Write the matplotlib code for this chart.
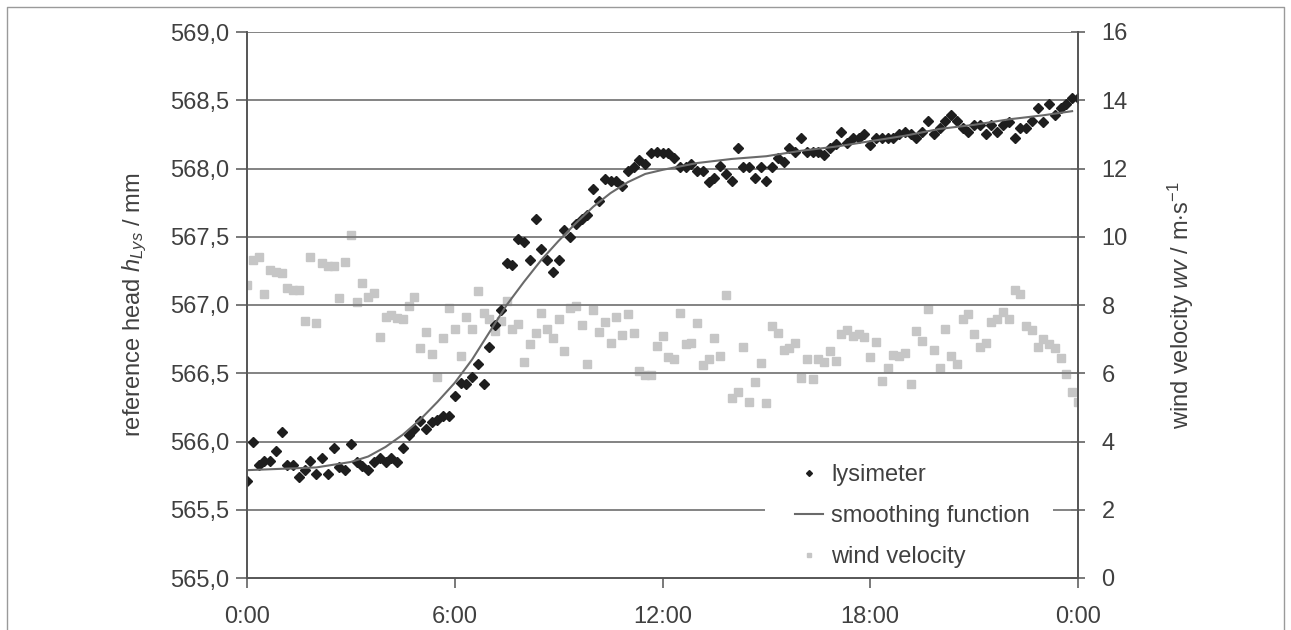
import matplotlib
matplotlib.use("Agg")
import matplotlib.pyplot as plt
import matplotlib.ticker as mticker
from matplotlib.lines import Line2D
from matplotlib.patches import Rectangle
import numpy as np

plt.rcParams["font.family"] = ["Liberation Sans", "DejaVu Sans"]
plt.rcParams["mathtext.fontset"] = "custom"
plt.rcParams["mathtext.it"] = "Liberation Sans:italic"
plt.rcParams["mathtext.rm"] = "Liberation Sans"

# ── Data (10-minute samples, 0:00 .. 24:00) ──────────────────────────────────
lysimeter = [
    565.71, 566.00, 565.83, 565.86, 565.86, 565.93,   # 0h
    566.07, 565.83, 565.83, 565.74, 565.79, 565.86,   # 1h
    565.76, 565.88, 565.76, 565.95, 565.81, 565.79,   # 2h
    565.98, 565.85, 565.82, 565.79, 565.85, 565.88,   # 3h
    565.85, 565.88, 565.85, 565.95, 566.05, 566.09,   # 4h
    566.15, 566.09, 566.14, 566.16, 566.19, 566.19,   # 5h
    566.33, 566.43, 566.42, 566.47, 566.57, 566.42,   # 6h
    566.69, 566.85, 566.96, 567.31, 567.29, 567.48,   # 7h
    567.46, 567.33, 567.63, 567.41, 567.33, 567.24,   # 8h
    567.33, 567.55, 567.50, 567.59, 567.63, 567.66,   # 9h
    567.85, 567.76, 567.92, 567.91, 567.91, 567.87,   # 10h
    567.98, 568.01, 568.06, 568.03, 568.11, 568.12,   # 11h
    568.11, 568.11, 568.08, 568.01, 568.01, 568.03,   # 12h
    567.98, 567.98, 567.90, 567.93, 568.02, 567.96,   # 13h
    567.91, 568.15, 568.01, 568.01, 567.93, 568.01,   # 14h
    567.91, 568.01, 568.08, 568.05, 568.15, 568.12,   # 15h
    568.22, 568.12, 568.12, 568.12, 568.10, 568.15,   # 16h
    568.18, 568.27, 568.19, 568.22, 568.22, 568.25,   # 17h
    568.17, 568.22, 568.22, 568.22, 568.22, 568.25,   # 18h
    568.27, 568.25, 568.22, 568.27, 568.35, 568.25,   # 19h
    568.30, 568.35, 568.39, 568.35, 568.30, 568.27,   # 20h
    568.32, 568.32, 568.25, 568.32, 568.27, 568.32,   # 21h
    568.34, 568.22, 568.30, 568.30, 568.35, 568.44,   # 22h
    568.34, 568.47, 568.39, 568.44, 568.47, 568.52,   # 23h
    568.52,
]

wind = [
    8.59, 9.32, 9.42, 8.32, 9.03, 8.98,
    8.93, 8.51, 8.44, 8.44, 7.53, 9.42,
    7.48, 9.22, 9.15, 9.15, 8.21, 9.25,
    10.05, 8.10, 8.64, 8.24, 8.36, 7.05,
    7.66, 7.71, 7.61, 7.58, 7.98, 8.22,
    6.73, 7.22, 6.55, 5.88, 7.02, 7.90,
    7.29, 6.50, 7.66, 7.29, 8.42, 7.76,
    7.58, 7.25, 7.52, 8.12, 7.29, 7.44,
    6.32, 6.86, 7.19, 7.78, 7.29, 7.02,
    7.58, 6.66, 7.90, 7.98, 7.41, 6.27,
    7.85, 7.22, 7.49, 6.90, 7.66, 7.12,
    7.73, 7.19, 6.08, 5.95, 5.95, 6.80,
    7.09, 6.47, 6.42, 7.76, 6.86, 6.88,
    7.46, 6.24, 6.43, 7.02, 6.52, 8.28,
    5.28, 5.44, 6.78, 5.15, 5.75, 6.29,
    5.12, 7.37, 7.19, 6.68, 6.75, 6.90,
    5.86, 6.42, 5.83, 6.42, 6.32, 6.66,
    6.36, 7.14, 7.27, 7.10, 7.14, 7.07,
    6.49, 6.93, 5.77, 6.16, 6.53, 6.51,
    6.58, 5.69, 7.25, 6.95, 7.88, 6.68,
    6.16, 7.29, 6.51, 6.26, 7.59, 7.73,
    7.14, 6.78, 6.90, 7.51, 7.59, 7.79,
    7.59, 8.44, 8.32, 7.37, 7.27, 6.78,
    6.99, 6.85, 6.75, 6.46, 5.98, 5.44,
    5.17,
]

smooth_t = [0, 1, 2, 3, 3.5, 4, 4.5, 5, 5.5, 6, 6.5, 7, 7.5, 8, 8.5, 9, 9.5,
            10, 10.5, 11, 11.5, 12, 13, 14, 15, 16, 17, 18, 19, 20, 21, 22, 23, 23.83]
smooth_v = [565.79, 565.80, 565.81, 565.85, 565.89, 565.96, 566.05, 566.16, 566.29,
            566.43, 566.60, 566.80, 567.00, 567.17, 567.33, 567.47, 567.60,
            567.72, 567.82, 567.90, 567.96, 567.99, 568.04, 568.07, 568.09,
            568.13, 568.16, 568.20, 568.24, 568.29, 568.32, 568.36, 568.39, 568.42]

hours = np.arange(len(lysimeter)) / 6.0
xticks = [0, 6, 12, 18, 24]
xticklabels = ["0:00", "6:00", "12:00", "18:00", "0:00"]

INK = "#404040"
GRID = "#7a7a7a"
FS = 17

# ── Figure ───────────────────────────────────────────────────────────────────
fig = plt.figure(figsize=(12.91, 6.30), dpi=100, facecolor="white")
ax1 = fig.add_axes([247 / 1291, 1 - 578 / 630, 831 / 1291, 546 / 630])
ax2 = ax1.twinx()

# outer frame
fig.add_artist(Line2D([7 / 1291, 7 / 1291, 1284 / 1291, 1284 / 1291],
                      [0, 1 - 7 / 630, 1 - 7 / 630, 0],
                      transform=fig.transFigure, color="#9a9a9a", lw=1.0))

ax1.set_zorder(ax2.get_zorder() + 1)
ax1.patch.set_visible(False)

h_wind, = ax2.plot(hours, wind, ls="none", marker="s", ms=5.5,
                   color="#c6c6c6", mec="#c6c6c6", label="wind velocity")
h_lys, = ax1.plot(hours, lysimeter, ls="none", marker="D", ms=4.6,
                  color="#1e1e1e", mec="#1e1e1e", label="lysimeter")
h_sm, = ax1.plot(smooth_t, smooth_v, color="#6a6a6a", lw=1.5,
                 label="smoothing function")

ax1.set_xlim(0, 24)
ax1.set_ylim(565.0, 569.0)
ax2.set_ylim(0, 16)
ax1.set_xticks(xticks)
ax1.set_xticklabels(xticklabels)
ax1.set_yticks(np.arange(565.0, 569.01, 0.5))
ax1.yaxis.set_major_formatter(mticker.FuncFormatter(lambda v, _: f"{v:.1f}".replace(".", ",")))
ax2.set_yticks(np.arange(0, 17, 2))

ax1.grid(axis="y", color=GRID, lw=1.3)
ax1.set_axisbelow(True)

for ax in (ax1, ax2):
    for s in ax.spines.values():
        s.set_color("#555555")
        s.set_linewidth(1.2)
    ax.spines["top"].set_visible(False)

ax1.tick_params(axis="y", direction="out", length=8, width=1.1, color="#555555",
                labelsize=FS, labelcolor=INK, pad=5)
ax1.tick_params(axis="x", direction="out", length=7, width=1.1, color="#555555",
                labelsize=FS, labelcolor=INK, pad=13)
ax2.tick_params(axis="y", direction="inout", length=10, width=1.1, color="#555555",
                labelsize=FS, labelcolor=INK, pad=12)

ax1.set_ylabel(r"reference head $h_{Lys}$ / mm", fontsize=FS, color=INK, labelpad=15)
ax2.set_ylabel(r"wind velocity $wv$ / m$\cdot$s$^{-1}$", fontsize=FS, color=INK, labelpad=27)

# white legend area covering the grid lines
ax1.add_patch(Rectangle((0.6233, 0.004), 0.3466, 0.234, transform=ax1.transAxes,
                        facecolor="white", edgecolor="none", zorder=1))

leg = ax1.legend(handles=[h_lys, h_sm, h_wind], loc="upper left",
                 bbox_to_anchor=(0.6595, 0.209), frameon=False,
                 fontsize=FS, labelcolor=INK, markerscale=0.65,
                 handlelength=1.2, handletextpad=0.34, labelspacing=0.81,
                 borderpad=0, borderaxespad=0)
leg.set_zorder(10)

fig.savefig("out.png", dpi=100, facecolor="white")
